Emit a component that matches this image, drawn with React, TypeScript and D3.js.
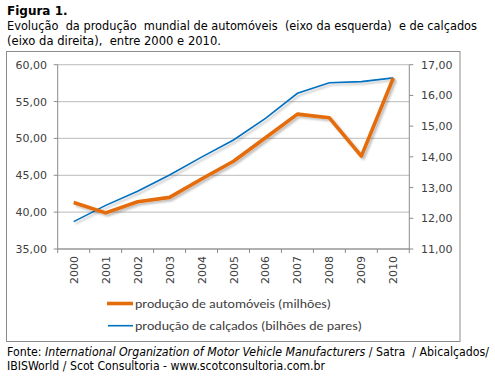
import React from "react";
import * as d3 from "d3";

const years = ["2000","2001","2002","2003","2004","2005","2006","2007","2008","2009","2010"];
const automoveis = [41.3, 39.9, 41.4, 42.0, 44.5, 46.9, 50.1, 53.3, 52.8, 47.6, 58.2];
const calcados = [11.89, 12.42, 12.88, 13.41, 13.99, 14.55, 15.25, 16.07, 16.41, 16.45, 16.57];
const leftTicks = [35, 40, 45, 50, 55, 60];
const rightTicks = [11, 12, 13, 14, 15, 16, 17];
const legendLabels = ["produção de automóveis (milhões)", "produção de calçados (bilhões de pares)"];

const fmt = (v: number) => v.toFixed(2).replace(".", ",");

export default function App() {
  const W = 495, H = 377;
  const x0 = 57.7, x1 = 409.3, yTop = 64.7, yBot = 249;
  const x = d3.scaleBand<string>().domain(years).range([x0, x1]);
  const yL = d3.scaleLinear().domain([35, 60]).range([yBot, yTop]);
  const yR = d3.scaleLinear().domain([11, 17]).range([yBot, yTop]);
  const cx = (d: string) => (x(d) as number) + x.bandwidth() / 2;
  const lineA = d3.line<number>().x((_, i) => cx(years[i])).y((d) => yL(d));
  const lineC = d3.line<number>().x((_, i) => cx(years[i])).y((d) => yR(d));
  const tickCol = "#8c8c8c";
  const labCol = "#404040";
  const font = "'DejaVu Sans', Verdana, sans-serif";
  const lfont = "Carlito, Calibri, 'Liberation Sans', sans-serif";
  const pre = { whiteSpace: "pre" as const };
  return (
    <svg width={W} height={H} style={{ position: "absolute", left: 0, top: 0, background: "#fff" }}>
      <defs>
        <filter id="sh" x="-10%" y="-10%" width="120%" height="130%">
          <feGaussianBlur in="SourceAlpha" stdDeviation="1.2" />
          <feOffset dx="1.5" dy="2" result="b" />
          <feComponentTransfer><feFuncA type="linear" slope="0.25" /></feComponentTransfer>
          <feMerge><feMergeNode /><feMergeNode in="SourceGraphic" /></feMerge>
        </filter>
      </defs>
      <text x={7} y={15} fontFamily={font} fontSize={12} fontWeight="bold" fill="#000">Figura 1.</text>
      <text x={7} y={30} style={pre} fontFamily={font} fontSize={11.5} fill="#000" textLength={470} lengthAdjust="spacingAndGlyphs">{"Evolução  da produção  mundial de automóveis  (eixo da esquerda)  e de calçados"}</text>
      <text x={7} y={45} style={pre} fontFamily={font} fontSize={11.5} fill="#000" textLength={214} lengthAdjust="spacingAndGlyphs">{"(eixo da direita),  entre 2000 e 2010."}</text>

      <rect x={6.5} y={51.5} width={453.5} height={290} fill="#fff" stroke="#8c8c8c" strokeWidth={1} />

      {leftTicks.map((t) => (
        <g key={"l" + t}>
          <line x1={x0} x2={x1} y1={yL(t)} y2={yL(t)} stroke="#c8c8c8" strokeWidth={1.3} />
          <line x1={x0 - 4} x2={x0} y1={yL(t)} y2={yL(t)} stroke={tickCol} />
          <text x={47} y={yL(t) + 4} textAnchor="end" fontFamily={font} fontSize={11} fill={labCol}>{fmt(t)}</text>
        </g>
      ))}
      {rightTicks.map((t) => (
        <g key={"r" + t}>
          <line x1={x1} x2={x1 + 4} y1={yR(t)} y2={yR(t)} stroke={tickCol} />
          <text x={421} y={yR(t) + 4} textAnchor="start" fontFamily={font} fontSize={11} fill={labCol}>{fmt(t)}</text>
        </g>
      ))}
      <line x1={x0} x2={x0} y1={yTop} y2={yBot} stroke={tickCol} />
      <line x1={x1} x2={x1} y1={yTop} y2={yBot} stroke={tickCol} />
      <line x1={x0} x2={x1} y1={yBot} y2={yBot} stroke={tickCol} />
      {years.map((y, i) => (
        <line key={"bt" + y} x1={x0 + i * x.bandwidth()} x2={x0 + i * x.bandwidth()} y1={yBot} y2={yBot + 4} stroke={tickCol} />
      ))}
      <line x1={x1} x2={x1} y1={yBot} y2={yBot + 4} stroke={tickCol} />
      {years.map((y) => (
        <text key={"yl" + y} transform={`translate(${cx(y) + 4},${256}) rotate(-90)`} textAnchor="end" fontFamily={font} fontSize={11} fill={labCol}>{y}</text>
      ))}

      <path d={lineC(calcados) as string} fill="none" stroke="#0070C0" strokeWidth={1.6} filter="url(#sh)" />
      <path d={lineA(automoveis) as string} fill="none" stroke="#E46C0A" strokeWidth={3.6} strokeLinejoin="round" filter="url(#sh)" />

      <line x1={107} x2={133} y1={303.5} y2={303.5} stroke="#E46C0A" strokeWidth={3.6} />
      <text x={135} y={307.5} fontFamily={lfont} fontSize={12} fill={labCol} textLength={196} lengthAdjust="spacingAndGlyphs">{legendLabels[0]}</text>
      <line x1={108} x2={133} y1={325.7} y2={325.7} stroke="#0070C0" strokeWidth={1.6} />
      <text x={135} y={330} fontFamily={lfont} fontSize={12} fill={labCol} textLength={227} lengthAdjust="spacingAndGlyphs">{legendLabels[1]}</text>

      <text x={7} y={356} style={pre} fontFamily={font} fontSize={11.5} fill="#000" textLength={482} lengthAdjust="spacingAndGlyphs">
        {"Fonte: "}<tspan fontStyle="italic">International Organization of Motor Vehicle Manufacturers</tspan>{" / Satra  / Abicalçados/"}
      </text>
      <text x={7} y={370} fontFamily={font} fontSize={11.5} fill="#000" textLength={318} lengthAdjust="spacingAndGlyphs">IBISWorld / Scot Consultoria - www.scotconsultoria.com.br</text>
    </svg>
  );
}
